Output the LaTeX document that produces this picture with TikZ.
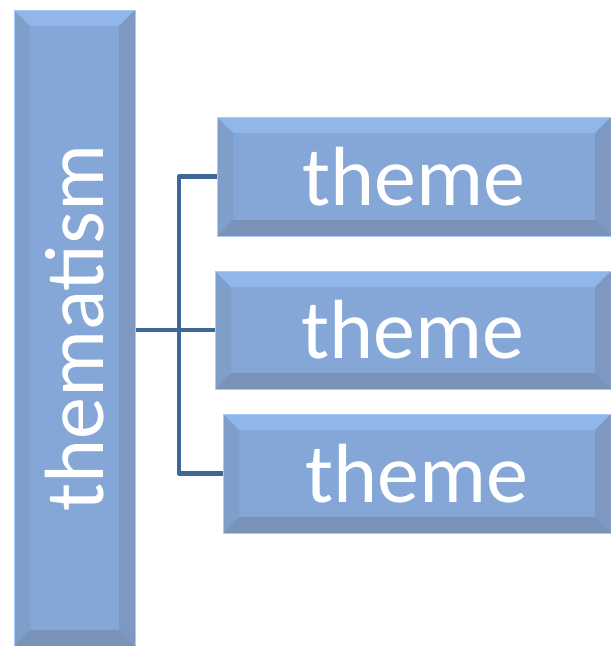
\documentclass[tikz,border=0pt]{standalone}
\usepackage{fontspec}
\setmainfont{Carlito}
\usetikzlibrary{calc}

\definecolor{boxmain}{HTML}{84A7D7}
\definecolor{boxtop}{HTML}{90B6EA}
\definecolor{boxleft}{HTML}{7F9EC9}
\definecolor{boxright}{HTML}{7E99C1}
\definecolor{boxbottom}{HTML}{7A92B8}
\definecolor{boxedge}{HTML}{A9CAF6}
\definecolor{linkblue}{HTML}{3E6697}

\tikzset{
    % Bevelled box
    bevelbox/.style={
        rectangle, inner sep=0pt, fill=boxmain, draw=boxedge, line width=1pt,
        text=white, font=\fontsize{84}{84}\selectfont,
        path picture={
            \coordinate (nw) at (path picture bounding box.north west);
            \coordinate (ne) at (path picture bounding box.north east);
            \coordinate (sw) at (path picture bounding box.south west);
            \coordinate (se) at (path picture bounding box.south east);
            \fill[boxtop] (nw) -- (ne) -- ($(ne)+(-16pt,-16pt)$) -- ($(nw)+(16pt,-16pt)$) -- cycle;
            \fill[boxleft] (nw) -- (sw) -- ($(sw)+(16pt,16pt)$) -- ($(nw)+(16pt,-16pt)$) -- cycle;
            \fill[boxright] (ne) -- (se) -- ($(se)+(-16pt,16pt)$) -- ($(ne)+(-16pt,-16pt)$) -- cycle;
            \fill[boxbottom] (sw) -- (se) -- ($(se)+(-16pt,16pt)$) -- ($(sw)+(16pt,16pt)$) -- cycle;
        }
    },
    % Connector lines
    link/.style={draw=linkblue, line width=4.5pt, line join=round}
}

\begin{document}
\begin{tikzpicture}[x=1pt, y=-1pt]

    \useasboundingbox (0,0) rectangle (611,646);

    % --- Boxes ---
    \node[bevelbox, minimum width=121pt, minimum height=636pt] (thematism) at (74.5,328) {\rotatebox{90}{thematism}};
    \node[bevelbox, minimum width=394pt, minimum height=119pt] (theme1) at (414,176.5) {theme};
    \node[bevelbox, minimum width=396pt, minimum height=118pt] (theme2) at (413,330) {theme};
    \node[bevelbox, minimum width=388pt, minimum height=119pt] (theme3) at (417,473.5) {theme};

    % --- Connectors ---
    \coordinate (fork) at (179,330);
    \draw[link] (thematism.east |- theme2.west) -- (theme2.west);
    \draw[link] (theme1.west) -| (fork) |- (theme3.west);

\end{tikzpicture}
\end{document}
